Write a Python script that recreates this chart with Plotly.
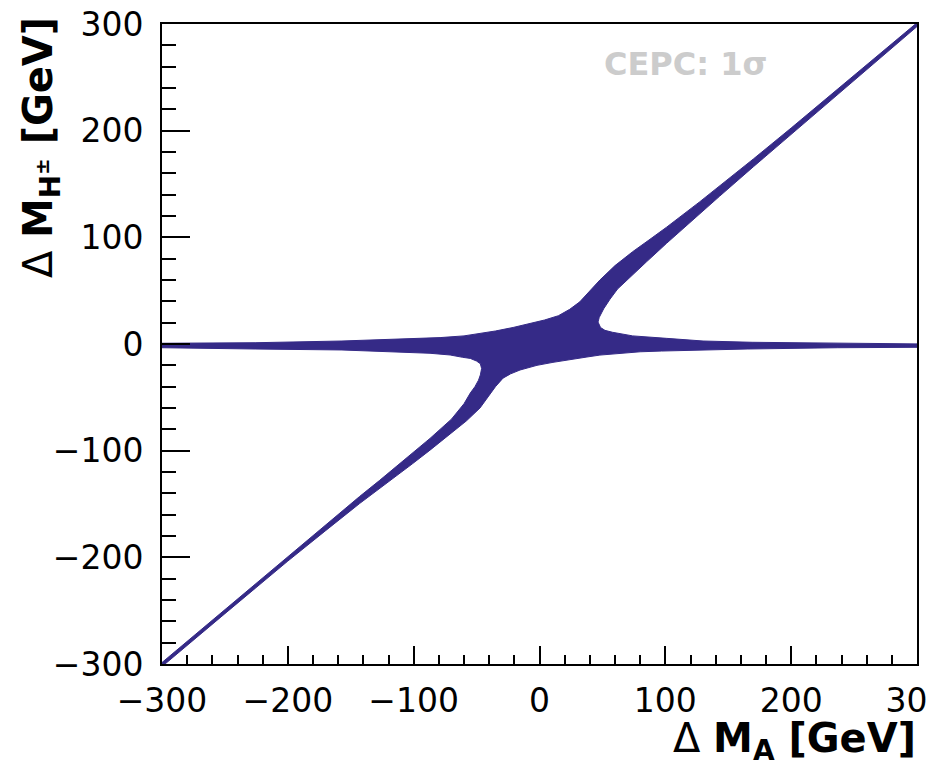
import plotly.graph_objects as go

# Boundary of the CEPC 1-sigma region (Delta M_A, Delta M_H+-), GeV
region_x = [
    -300, -226, -157, -119, -79, -60, -47, -35, -21, -8, 4, 15, 24, 32, 38.5, 48, 60, 74, 87, 101, 127, 143, 170, 200, 250, 300,
    300, 250, 200, 170, 143, 127, 101, 85, 70, 62, 56, 51, 47.5, 46.5, 48.5, 52, 58, 64, 74, 101, 130, 169, 248, 300,
    300, 237, 165, 122, 97, 80, 64, 48, 37.7, 24, 10.7, -2, -15.5, -23, -29, -35, -41, -47.3, -58, -70, -87, -101, -127, -143, -170, -200, -250, -300,
    -300, -250, -200, -170, -143, -127, -101, -87, -70, -60, -55, -51.3, -48.5, -47, -46, -47, -50, -55, -61, -71, -87, -119, -157, -226, -300,
]
region_y = [
    0.7, 1.2, 2.8, 4.4, 6.0, 7.6, 9.8, 12.2, 15.5, 19.0, 22.5, 26.5, 32.5, 39.5, 48, 60, 73.5, 86.5, 97.5, 109.5, 133, 147.8, 173.5, 202.5, 251.8, 301.2,
    297.6, 247.3, 196.8, 166.2, 138.4, 121.8, 94.4, 77, 60.5, 51.5, 42, 33, 25, 20.6, 15.5, 12.8, 11, 9.8, 7.6, 5.3, 2.8, 1.6, 0.7, 0.1,
    -3.1, -3.5, -4.7, -5.6, -6.6, -7.3, -8.7, -10.4, -12.2, -14.6, -17.2, -20, -24.4, -28, -32, -40, -50, -60, -72, -83.5, -99.5, -112.3, -135.3, -149.6, -175, -203.5, -252.8, -302.4,
    -298.6, -248.8, -198.9, -169.5, -143, -127.8, -102.8, -88.5, -70.5, -56, -46, -40, -34, -29, -23, -18.5, -16, -13.5, -12.5, -10.3, -8.7, -7.2, -5.6, -4.7, -3.5,
]

tick_vals = [-300, -200, -100, 0, 100, 200, 300]

COLOR = "#352a87"
FONT = "DejaVu Sans"

fig = go.Figure()
fig.add_trace(go.Scatter(
    x=region_x + [region_x[0]], y=region_y + [region_y[0]],
    mode="lines", fill="toself", fillcolor=COLOR,
    line=dict(color=COLOR, width=1), hoverinfo="skip", showlegend=False,
))

axis_common = dict(
    range=[-300, 300], tickvals=tick_vals, ticks="inside", tickwidth=2, tickcolor="black",
    showline=True, linewidth=2, linecolor="black", mirror=True,
    showgrid=False, zeroline=False, ticklabeloverflow="allow", automargin=False,
    tickfont=dict(family=FONT, size=33, color="black"),
)

fig.update_xaxes(**axis_common, ticklen=18, ticklabelstandoff=6,
                 minor=dict(dtick=20, ticks="inside", ticklen=9, tickwidth=2, tickcolor="black"))
fig.update_yaxes(**axis_common, ticklen=28, ticklabelstandoff=10,
                 minor=dict(dtick=20, ticks="inside", ticklen=14, tickwidth=2, tickcolor="black"))

fig.add_annotation(
    text="Δ <b>M<sub>A</sub> [GeV]</b>", xref="paper", yref="paper",
    x=1.0015, y=-0.077, xanchor="right", yanchor="top", showarrow=False,
    font=dict(family=FONT, size=40, color="black"),
)
fig.add_annotation(
    text="Δ <b>M<sub>H<sup>±</sup></sub> [GeV]</b>", xref="paper", yref="paper",
    x=-0.198, y=1.014, xanchor="left", yanchor="top", showarrow=False, textangle=-90,
    font=dict(family=FONT, size=40, color="black"),
)
fig.add_annotation(
    text="<b>CEPC: 1σ</b>", xref="paper", yref="paper",
    x=0.694, y=0.9375, xanchor="center", yanchor="middle", showarrow=False,
    font=dict(family=FONT, size=32, color="#cccccc"),
)

fig.update_layout(
    width=927, height=772,
    margin=dict(l=162, r=10, t=24, b=108, autoexpand=False),
    paper_bgcolor="white", plot_bgcolor="white",
    showlegend=False,
)

fig.write_html("out.html")
